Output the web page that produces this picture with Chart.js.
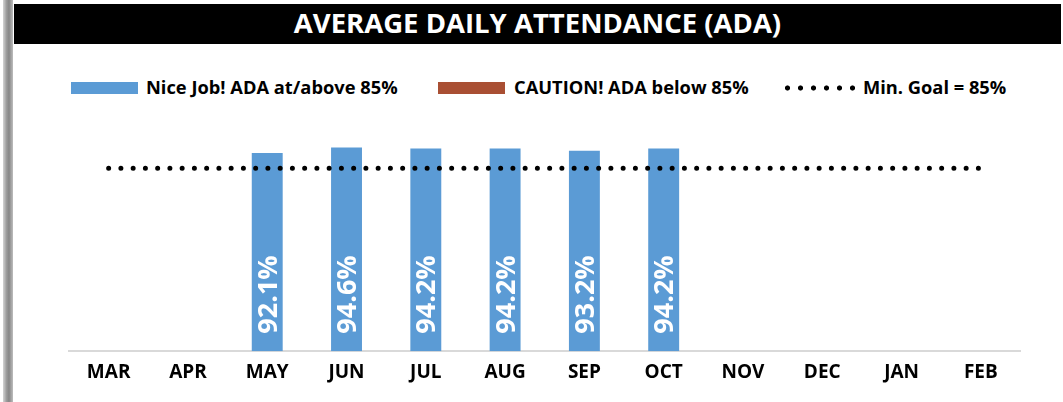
<!DOCTYPE html>
<html><head><meta charset="utf-8">
<script src="https://cdn.jsdelivr.net/npm/chart.js@4"></script>
<style>
html,body{margin:0;padding:0;background:#fff;width:1063px;height:402px;overflow:hidden;font-family:"Open Sans",sans-serif;}
body{position:relative;}
#edge{position:absolute;left:3px;top:0;width:10px;height:402px;background:linear-gradient(to right,#d4d4d4,#9c9c9c 35%,#868686 60%,#bdbdbd);}
#title{position:absolute;left:14px;top:4px;width:1047px;height:40px;background:#000;color:#fff;font-weight:700;font-size:27.5px;line-height:37px;text-align:center;white-space:nowrap;}
.lt{position:absolute;top:76px;line-height:22px;font-weight:700;font-size:18.3px;color:#000;white-space:nowrap;}
.sw{position:absolute;top:82px;width:67px;height:12px;}
#dots{position:absolute;left:781px;top:82px;width:78px;height:12px;background:radial-gradient(circle,#000 2.2px,rgba(0,0,0,0) 2.9px) 0 0/13px 12px repeat-x;}
#wrap{position:absolute;left:0;top:110px;width:1063px;height:292px;}
</style>
</head><body>
<div id="edge"></div>
<div id="title">AVERAGE DAILY ATTENDANCE (ADA)</div>
<div class="sw" id="sw1" style="left:71px"></div><div class="lt" id="lt1" style="left:146px"></div>
<div class="sw" id="sw2" style="left:438px"></div><div class="lt" id="lt2" style="left:514px"></div>
<div id="dots"></div><div class="lt" id="lt3" style="left:863px"></div>
<div id="wrap"><canvas id="c"></canvas></div>
<script>
const months = ["MAR","APR","MAY","JUN","JUL","AUG","SEP","OCT","NOV","DEC","JAN","FEB"];
const adaValues = [null,null,92.1,94.6,94.2,94.2,93.2,94.2,null,null,null,null];
const goalValues = [85,85,85,85,85,85,85,85,85,85,85,85];
const goal = 85;
const seriesNames = ["Nice Job! ADA at/above 85%","CAUTION! ADA below 85%","Min. Goal = 85%"];
const BLUE = "#5B9BD5", RED = "#A94F33";

document.getElementById('sw1').style.background = BLUE;
document.getElementById('sw2').style.background = RED;
document.getElementById('lt1').textContent = seriesNames[0];
document.getElementById('lt2').textContent = seriesNames[1];
document.getElementById('lt3').textContent = seriesNames[2];

const barLabels = {
  id:'barLabels',
  afterDatasetsDraw(chart){
    const meta = chart.getDatasetMeta(1);
    const ctx = chart.ctx;
    ctx.save();
    ctx.fillStyle = '#fff';
    ctx.font = '700 27px "Open Sans"';
    ctx.textAlign = 'left';
    ctx.textBaseline = 'alphabetic';
    meta.data.forEach((el,i)=>{
      const v = adaValues[i];
      if (v == null) return;
      ctx.save();
      ctx.translate(el.x + 9.6, el.base - 17.5);
      ctx.rotate(-Math.PI/2);
      ctx.fillText(v.toFixed(1) + '%', 0, 0);
      ctx.restore();
    });
    ctx.restore();
  }
};

new Chart(document.getElementById('c'), {
  type:'bar',
  data:{
    labels: months,
    datasets:[
      {type:'line', label:seriesNames[2], data:goalValues, borderColor:'#000', borderWidth:5,
       borderDash:[0,12.25], borderCapStyle:'round', pointRadius:0, fill:false, order:0},
      {type:'bar', label:'ADA', data:adaValues,
       backgroundColor:(c)=> (c.raw!=null && c.raw < goal) ? RED : BLUE,
       barPercentage:0.39, categoryPercentage:1, order:1}
    ]
  },
  options:{
    responsive:true, maintainAspectRatio:false, animation:false,
    layout:{padding:{left:69, right:42.5, top:26, bottom:8}},
    plugins:{legend:{display:false}, tooltip:{enabled:false}},
    scales:{
      y:{display:false, min:0, max:100},
      x:{grid:{display:false, drawTicks:false}, border:{display:true, color:'#D9D9D9', width:2},
         ticks:{color:'#000', padding:10, font:{family:'"Open Sans"', size:19, weight:'700'}}}
    }
  },
  plugins:[barLabels]
});
</script>
</body></html>
